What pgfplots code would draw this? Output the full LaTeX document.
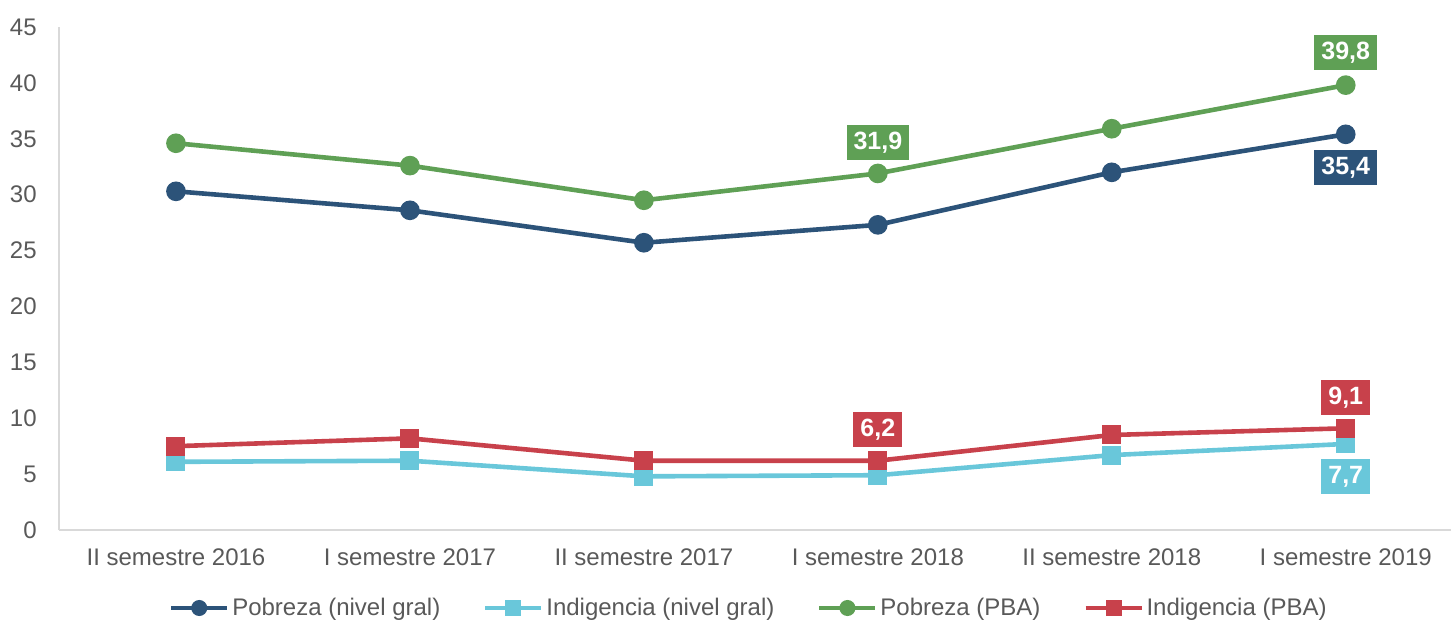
\documentclass[border=0pt]{standalone}
\usepackage{pgfplots}
\pgfplotsset{compat=1.18}
\usetikzlibrary{calc}
\usepackage{fontspec}
\setmainfont{Liberation Sans}
\definecolor{cblue}{HTML}{2C5379}
\definecolor{clight}{HTML}{69C7DA}
\definecolor{cgreen}{HTML}{5FA055}
\definecolor{cred}{HTML}{C8414B}
\definecolor{ctxt}{HTML}{595959}
\definecolor{caxis}{HTML}{D9D9D9}
\begin{document}
\begin{tikzpicture}
\begin{axis}[
  name=ax,
  scale only axis,
  width=696bp, height=251.5bp,
  xmin=-0.5, xmax=5.45,
  ymin=0, ymax=45,
  ytick={0,5,...,45},
  xtick={0,1,2,3,4,5},
  xticklabels={II semestre 2016, I semestre 2017, II semestre 2017, I semestre 2018, II semestre 2018, I semestre 2019},
  axis x line*=bottom, axis y line*=left,
  axis line style={caxis, line width=0.6bp, -},
  major tick length=0pt,
  tick style={draw=none},
  /pgf/number format/assume math mode=true,
  ticklabel style={font=\fontsize{12bp}{14bp}\selectfont, text=ctxt},
  yticklabel style={inner sep=0pt, xshift=-11bp},
  xticklabel style={inner sep=0pt, yshift=-9bp},
  clip=false,
  every axis plot/.append style={line width=2.3bp},
  legend columns=4,
  legend style={draw=none, fill=none, at={(rel axis cs:0.496,0)}, anchor=center, yshift=-39bp,
    font=\fontsize{12bp}{14bp}\selectfont, text=ctxt,
    /tikz/every even column/.append style={column sep=20bp},
    nodes={inner sep=1.5bp}},
  legend image code/.code={
    \draw[mark repeat=2,mark phase=2,#1,line width=2bp,mark size=3bp] plot coordinates {(0bp,0bp)(14bp,0bp)(28bp,0bp)};},
]
\addplot[cblue, mark=*, mark size=3.75bp, mark options={solid}] coordinates {
(0,30.3) (1,28.6) (2,25.7) (3,27.3) (4,32.0) (5,35.4)};
\addlegendentry{Pobreza (nivel gral)}
\addplot[clight, mark=square*, mark size=3.6bp] coordinates {
(0,6.1) (1,6.2) (2,4.8) (3,4.9) (4,6.7) (5,7.7)};
\addlegendentry{Indigencia (nivel gral)}
\addplot[cgreen, mark=*, mark size=3.75bp] coordinates {
(0,34.6) (1,32.6) (2,29.5) (3,31.9) (4,35.9) (5,39.8)};
\addlegendentry{Pobreza (PBA)}
\addplot[cred, mark=square*, mark size=3.6bp] coordinates {
(0,7.5) (1,8.2) (2,6.2) (3,6.2) (4,8.5) (5,9.1)};
\addlegendentry{Indigencia (PBA)}
\tikzset{lab/.style={text=white, font=\bfseries\fontsize{12.5bp}{14bp}\selectfont, inner xsep=3.5bp, minimum height=17.5bp, anchor=center}}
\node[lab, fill=cgreen] at (axis cs:5,39.8) [yshift=16.3bp] {39,8};
\node[lab, fill=cblue] at (axis cs:5,35.4) [yshift=-16.5bp] {35,4};
\node[lab, fill=cred] at (axis cs:5,9.1) [yshift=15.5bp] {9,1};
\node[lab, fill=clight] at (axis cs:5,7.7) [yshift=-16.3bp] {7,7};
\node[lab, fill=cgreen] at (axis cs:3,31.9) [yshift=15.5bp] {31,9};
\node[lab, fill=cred] at (axis cs:3,6.2) [yshift=15.5bp] {6,2};
\end{axis}
\pgfresetboundingbox
\path (ax.south west) ++(-29.5bp,-46.5bp) rectangle ($(ax.north east)+(0,13.5bp)$);
\end{tikzpicture}
\end{document}
